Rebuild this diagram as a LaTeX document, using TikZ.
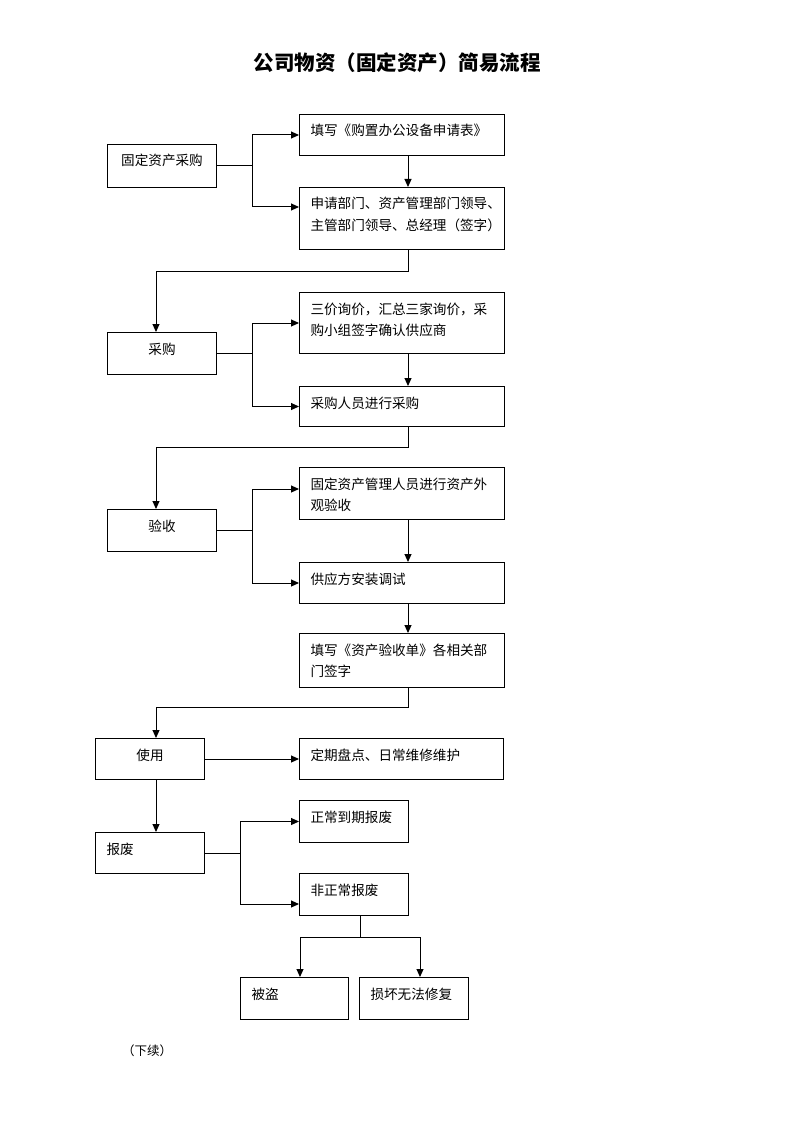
\documentclass[tikz,border=0pt]{standalone}
\usepackage{fontspec}
\setmainfont{Noto Sans CJK SC}
\usetikzlibrary{arrows.meta}

\tikzset{
  box/.style 2 args={draw, anchor=north west, inner xsep=11pt, inner ysep=0pt,
    text width=#1pt-22pt, text height=21.5pt, text depth=#2pt-21.5pt,
    align=left, font=\fontsize{13.6}{21}\selectfont},
  mid/.style={align=center},
  flow/.style={-{Triangle[length=8pt,width=7pt]}}
}

\begin{document}
\begin{tikzpicture}[x=1pt,y=-1pt,line width=1pt]
\fill[white] (0,0) rectangle (794,1123);
\useasboundingbox (0,0) rectangle (794,1123);

\node[font=\fontsize{20.5}{24}\selectfont\bfseries] (title) at (397,63)
    {公司物资（固定资产）简易流程};

% purchase
\node[box={109}{43},mid] (buy)     at (107,144) {固定资产采购};
\node[box={205}{41}]     (form)    at (299,114) {填写《购置办公设备申请表》};
\node[box={205}{62}]     (sign)    at (299,187) {申请部门、资产管理部门领导、\\主管部门领导、总经理（签字）};
\draw (buy.east) -- ++(35,0) coordinate (j1);
\draw[flow] (j1) |- (form.west);
\draw[flow] (j1) |- ([yshift=-20pt]sign.north west);
\draw[flow] (form.south -| 408,0) -- (sign.north -| 408,0);

\node[box={109}{42},mid] (purch)   at (107,332) {采购};
\node[box={205}{61}]     (quote)   at (299,292) {三价询价，汇总三家询价，采\\购小组签字确认供应商};
\node[box={205}{40}]     (doit)    at (299,386) {采购人员进行采购};
\draw[flow] (sign.south -| 408,0) |- (156,271) -- (purch.north -| 156,0);
\draw (purch.east) -- ++(35,0) coordinate (j2);
\draw[flow] (j2) |- (quote.west);
\draw[flow] (j2) |- (doit.west);
\draw[flow] (quote.south -| 408,0) -- (doit.north -| 408,0);

% acceptance
\node[box={109}{42},mid] (check)   at (107,509) {验收};
\node[box={205}{52}]     (look)    at (299,467) {固定资产管理人员进行资产外\\观验收};
\node[box={205}{41}]     (install) at (299,562) {供应方安装调试};
\node[box={205}{54}]     (sheet)   at (299,633) {填写《资产验收单》各相关部\\门签字};
\draw[flow] (doit.south -| 408,0) |- (156,447) -- (check.north -| 156,0);
\draw (check.east) -- ++(35,0) coordinate (j3);
\draw[flow] (j3) |- ([yshift=-22pt]look.north west);
\draw[flow] (j3) |- (install.west);
\draw[flow] (look.south -| 408,0) -- (install.north -| 408,0);
\draw[flow] (install.south -| 408,0) -- (sheet.north -| 408,0);

% use and scrap
\node[box={109}{41},mid] (use)     at (95,738)  {使用};
\node[box={204}{41}]     (keep)    at (299,738) {定期盘点、日常维修维护};
\node[box={109}{41}]     (scrap)   at (95,832)  {报废};
\node[box={109}{42}]     (normal)  at (299,800) {正常到期报废};
\node[box={109}{42}]     (abnorm)  at (299,873) {非正常报废};
\node[box={108}{42}]     (stolen)  at (240,977) {被盗};
\node[box={109}{42}]     (broken)  at (359,977) {损坏无法修复};
\draw[flow] (sheet.south -| 408,0) |- (156,707) -- (use.north -| 156,0);
\draw[flow] (use.east) -- (keep.west);
\draw[flow] (use.south -| 156,0) -- (scrap.north -| 156,0);
\draw (scrap.east) -- ++(35,0) coordinate (j4);
\draw[flow] (j4) |- (normal.west);
\draw[flow] (j4) |- ([yshift=-31pt]abnorm.north west);
\draw (abnorm.south -| 360,0) -- ++(0,21) coordinate (j5);
\draw[flow] (j5) -| ([xshift=60pt]stolen.north west);
\draw[flow] (j5) -| ([xshift=61pt]broken.north west);

\node[font=\fontsize{12.5}{15}\selectfont] (more) at (147,1051) {（下续）};
\end{tikzpicture}
\end{document}
